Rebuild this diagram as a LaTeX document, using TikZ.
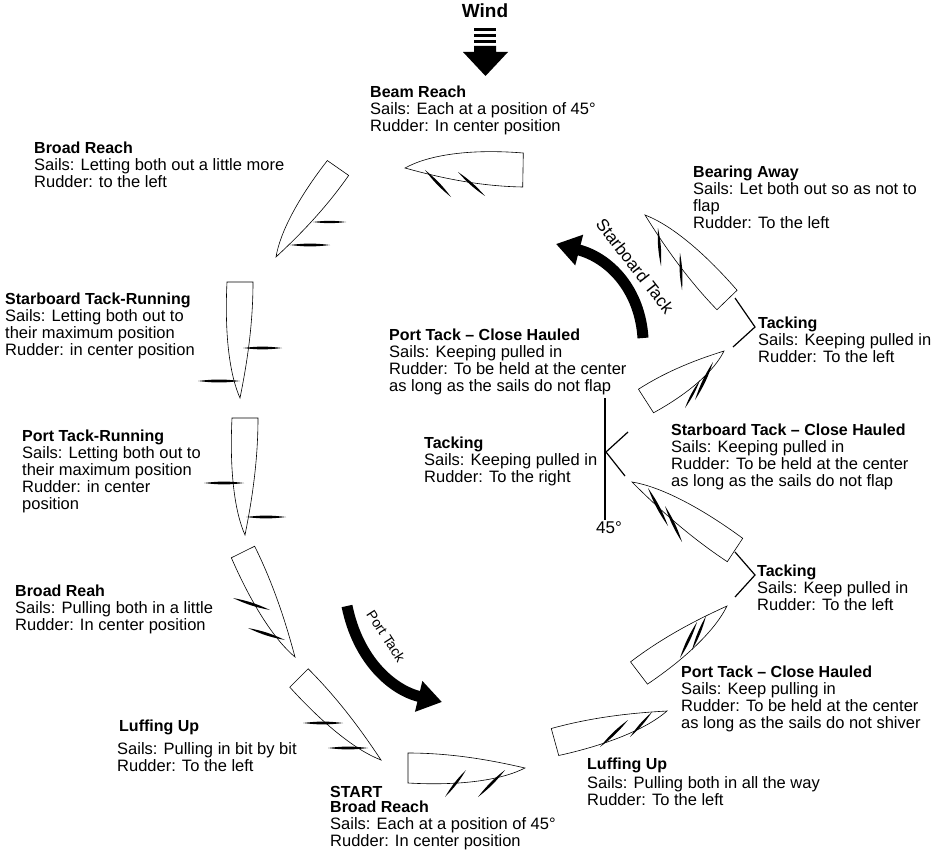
\documentclass[tikz,border=0pt]{standalone}
\usepackage{fontspec}
\setmainfont{Liberation Sans}
\usetikzlibrary{calc,arrows.meta}
\begin{document}
\begin{tikzpicture}[x=1pt,y=-1pt,
  txt/.style={anchor=north west,align=left,inner sep=0pt,font=\fontsize{16.5}{17}\selectfont},
  hullst/.style={draw=black,line width=0.6pt,fill=white},
  pics/hull/.style 2 args={code={\draw[hullst] (0,#2) .. controls (0.45*#1,1.2*#2) and (0.8*#1,0.8*#2) .. (#1,0) .. controls (0.75*#1,-0.45*#2) and (0.4*#1,-1.0*#2) .. (0,-#2) -- cycle;}},
  bigarrow/.style={line width=11pt,-{Triangle[width=30pt,length=24pt]}},
  conn/.style={line width=1.2pt}]
\useasboundingbox (0,0) rectangle (940,856);
\newcommand\boat[3]{\path let \p1=(#1),\p2=(#2),\n1={atan2(\y2-\y1,\x2-\x1)},\n2={veclen(\x2-\x1,\y2-\y1)} in (#1) pic[rotate=\n1]{hull={\n2}{#3}};}
\newcommand\sail[2]{\fill (#1) to[bend left=7] (#2) to[bend left=7] (#1);}
\newcommand\ttl[1]{{\bfseries\fontsize{16}{17}\selectfont #1}}
% Wind
\node[font=\bfseries\fontsize{19}{20}\selectfont] (wind) at (485,11) {Wind};
\foreach \yy in {28,34,40}{\fill (474,\yy) rectangle (496,\yy+3.5);}
\fill (474,46) rectangle (496,52) (463,52) -- (508,52) -- (485.5,76) -- cycle;
% boats
\coordinate (t1) at (523,170); \coordinate (b1) at (405,168); \boat{t1}{b1}{17}
\coordinate (t2) at (338,168); \coordinate (b2) at (276,257); \boat{t2}{b2}{13}
\coordinate (t3) at (240,282); \coordinate (b3) at (240,398); \boat{t3}{b3}{13}
\coordinate (t4) at (245,418); \coordinate (b4) at (245,535); \boat{t4}{b4}{13}
\coordinate (t5) at (243,552); \coordinate (b5) at (295,657); \boat{t5}{b5}{13}
\coordinate (t6) at (299,678); \coordinate (b6) at (381,760); \boat{t6}{b6}{13}
\coordinate (t7) at (408,768); \coordinate (b7) at (525,768); \boat{t7}{b7}{15}
\coordinate (t8) at (555,742); \coordinate (b8) at (667,711); \boat{t8}{b8}{14}
\coordinate (t9) at (639,673); \coordinate (b9) at (727,606); \boat{t9}{b9}{14}
\coordinate (t10) at (735,550); \coordinate (b10) at (632,482); \boat{t10}{b10}{14}
\coordinate (t11) at (646,401); \coordinate (b11) at (724,351); \boat{t11}{b11}{14}
\coordinate (t12) at (727,300); \coordinate (b12) at (645,215); \boat{t12}{b12}{14}
% sails
\sail{425,170}{451,197} \sail{458,172}{485,196}
\sail{313,222}{346,222} \sail{290,245}{330,245}
\sail{243,348}{282,348} \sail{198,381}{240,381}
\sail{204,483}{244,483} \sail{246,517}{286,517}
\sail{233,598}{270,610} \sail{248,628}{285,640}
\sail{303,723}{343,723} \sail{328,748}{368,748}
\sail{445,797}{466,770} \sail{478,797}{505,770}
\sail{600,747}{628,720} \sail{630,737}{652,712}
\sail{680,658}{697,622} \sail{692,650}{706,616}
\sail{648,488}{668,526} \sail{665,506}{682,542}
\sail{700,380}{685,408} \sail{713,362}{695,400}
\sail{658,228}{661,266} \sail{680,253}{682,290}
% connectors
\coordinate (u1) at (735,298); \coordinate (u2) at (755,327); \coordinate (u3) at (733,347);
\draw[conn] (u1) -- (u2) -- (u3);
\coordinate (l1) at (735,552); \coordinate (l2) at (755,575); \coordinate (l3) at (735,597);
\draw[conn] (l1) -- (l2) -- (l3);
\coordinate (v1) at (605,398); \coordinate (v2) at (605,520);
\draw[conn] (v1) -- (v2);
\coordinate (m1) at (628,432); \coordinate (m0) at (606,452); \coordinate (m2) at (625,476);
\draw[conn] (m1) -- (m0) -- (m2);
\node[font=\fontsize{17}{18}\selectfont] (deg) at (609,528) {45°};
% big arrows
\coordinate (s1) at (643,338); \coordinate (s2) at (556,244);
\draw[bigarrow] (s1) .. controls (640,290) and (610,258) .. (s2);
\node[font=\fontsize{17}{18}\selectfont,rotate=-52] (st) at (635,266) {Starboard Tack};
\coordinate (p1) at (347,606); \coordinate (p2) at (442,702);
\draw[bigarrow] (p1) .. controls (358,660) and (392,690) .. (p2);
\node[font=\fontsize{14}{15}\selectfont,rotate=-57] (pt) at (386,636) {Port Tack};
% texts
\node[txt] (n1) at (370,86) {\ttl{Beam Reach}\\Sails: Each at a position of 45°\\Rudder: In center position};
\node[txt] (n2) at (34,142) {\ttl{Broad Reach}\\Sails: Letting both out a little more\\Rudder: to the left};
\node[txt] (n3) at (5,293) {\ttl{Starboard Tack-Running}\\Sails: Letting both out to\\their maximum position\\Rudder: in center position};
\node[txt] (n4) at (22,430) {\ttl{Port Tack-Running}\\Sails: Letting both out to\\their maximum position\\Rudder: in center\\position};
\node[txt] (n5) at (15,585) {\ttl{Broad Reah}\\Sails: Pulling both in a little\\Rudder: In center position};
\node[txt] (n6) at (119,720) {\ttl{Luffing Up}};
\node[txt] (n6b) at (117,742) {Sails: Pulling in bit by bit\\Rudder: To the left};
\node[txt] (n7) at (330,786) {\ttl{START}\\[-2pt]\ttl{Broad Reach}\\Sails: Each at a position of 45°\\Rudder: In center position};
\node[txt] (n8) at (587,758) {\ttl{Luffing Up}\\[2pt]Sails: Pulling both in all the way\\Rudder: To the left};
\node[txt] (n9) at (681,666) {\ttl{Port Tack -- Close Hauled}\\Sails: Keep pulling in\\Rudder: To be held at the center\\as long as the sails do not shiver};
\node[txt] (n10) at (757,565) {\ttl{Tacking}\\Sails: Keep pulled in\\Rudder: To the left};
\node[txt] (n11) at (671,424) {\ttl{Starboard Tack -- Close Hauled}\\Sails: Keeping pulled in\\Rudder: To be held at the center\\as long as the sails do not flap};
\node[txt] (n12) at (424,437) {\ttl{Tacking}\\Sails: Keeping pulled in\\Rudder: To the right};
\node[txt] (n13) at (389,329) {\ttl{Port Tack -- Close Hauled}\\Sails: Keeping pulled in\\Rudder: To be held at the center\\as long as the sails do not flap};
\node[txt] (n14) at (758,317) {\ttl{Tacking}\\Sails: Keeping pulled in\\Rudder: To the left};
\node[txt] (n15) at (693,166) {\ttl{Bearing Away}\\Sails: Let both out so as not to\\flap\\Rudder: To the left};
\end{tikzpicture}
\end{document}
